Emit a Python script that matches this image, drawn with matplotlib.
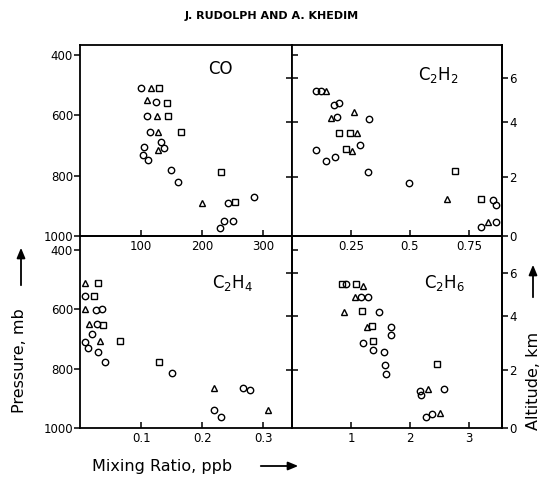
import matplotlib
matplotlib.use("Agg")
import matplotlib.pyplot as plt

plt.rcParams['font.family'] = ['DejaVu Sans']

# ---------------- data ----------------
# CO (ppb) vs pressure (mb)
co_circ_x = [100, 125, 110, 115, 133, 105, 137, 103, 112, 149, 160, 229, 236, 251, 242, 285]
co_circ_p = [510, 555, 602, 654, 687, 706, 709, 731, 748, 781, 820, 972, 949, 949, 892, 872]
co_tri_x = [116, 110, 126, 127, 127, 200]
co_tri_p = [508, 549, 602, 654, 715, 892]
co_sq_x = [130, 143, 144, 165, 230, 253]
co_sq_p = [508, 558, 602, 654, 787, 886]

# C2H2
c2h2_circ_x = [0.102, 0.123, 0.180, 0.200, 0.189, 0.325, 0.289, 0.102, 0.144, 0.184, 0.323, 0.496, 0.853, 0.863, 0.803, 0.863]
c2h2_circ_p = [519, 519, 566, 560, 604, 613, 698, 715, 750, 737, 787, 825, 880, 897, 971, 955]
c2h2_tri_x = [0.146, 0.165, 0.264, 0.275, 0.253, 0.656, 0.832]
c2h2_tri_p = [519, 610, 590, 660, 717, 877, 952]
c2h2_sq_x = [0.198, 0.247, 0.229, 0.690, 0.800]
c2h2_sq_p = [657, 660, 713, 783, 877]

# C2H4
c2h4_circ_x = [0.0085, 0.026, 0.036, 0.019, 0.0085, 0.013, 0.029, 0.041, 0.150, 0.219, 0.230, 0.266, 0.279, 0.028]
c2h4_circ_p = [554, 602, 598, 684, 711, 729, 745, 778, 815, 940, 963, 865, 871, 650]
c2h4_tri_x = [0.0085, 0.0085, 0.014, 0.033, 0.220, 0.308]
c2h4_tri_p = [510, 598, 650, 706, 865, 938]
c2h4_sq_x = [0.030, 0.023, 0.037, 0.065, 0.130]
c2h4_sq_p = [510, 554, 652, 706, 776]

# C2H6
c2h6_circ_x = [0.92, 1.17, 1.28, 1.48, 1.68, 1.68, 1.20, 1.38, 1.56, 1.57, 1.59, 2.17, 2.18, 2.58, 2.28, 2.38]
c2h6_circ_p = [515, 557, 557, 610, 658, 686, 714, 737, 745, 787, 818, 874, 890, 869, 964, 953]
c2h6_tri_x = [1.20, 1.07, 1.27, 0.88, 2.30, 2.51]
c2h6_tri_p = [520, 559, 658, 610, 869, 950]
c2h6_sq_x = [0.84, 1.08, 1.18, 1.35, 1.38, 2.46]
c2h6_sq_p = [515, 515, 607, 655, 708, 785]

p_ticks = [400, 600, 800, 1000]
alt_labels = ['0', '2', '4', '6']
alt_tick_p = [1000, 805, 622, 478]

co_ticks, co_labels = [100, 200, 300], ['100', '200', '300']
c2h4_ticks, c2h4_labels = [0.1, 0.2, 0.3], ['0.1', '0.2', '0.3']
c2h2_ticks, c2h2_labels = [0.25, 0.5, 0.75], ['0.25', '0.5', '0.75']
c2h6_ticks, c2h6_labels = [1, 2, 3], ['1', '2', '3']

# ---------------- figure ----------------
fig = plt.figure(figsize=(5.43, 4.80), dpi=100)
L, M, R = 80/543, 292/543, 502/543
T, MY, B = 1-45/480, 1-236/480, 1-428/480

ax_co = fig.add_axes([L, MY, M-L, T-MY])
ax_c2h2 = fig.add_axes([M, MY, R-M, T-MY])
ax_c2h4 = fig.add_axes([L, B, M-L, MY-B], facecolor='none')
ax_c2h6 = fig.add_axes([M, B, R-M, MY-B], facecolor='none')

mk = dict(linestyle='none', mfc='none', mec='black', mew=1.0, ms=4.6)

def draw(ax, cx, cp, tx, tp, sx, sp):
    ax.plot(cx, cp, marker='o', **mk)
    ax.plot(tx, tp, marker='^', **mk)
    ax.plot(sx, sp, marker='s', **dict(mk, ms=4.2))

draw(ax_co, co_circ_x, co_circ_p, co_tri_x, co_tri_p, co_sq_x, co_sq_p)
draw(ax_c2h2, c2h2_circ_x, c2h2_circ_p, c2h2_tri_x, c2h2_tri_p, c2h2_sq_x, c2h2_sq_p)
draw(ax_c2h4, c2h4_circ_x, c2h4_circ_p, c2h4_tri_x, c2h4_tri_p, c2h4_sq_x, c2h4_sq_p)
draw(ax_c2h6, c2h6_circ_x, c2h6_circ_p, c2h6_tri_x, c2h6_tri_p, c2h6_sq_x, c2h6_sq_p)

ax_co.set_xlim(0, 347); ax_c2h4.set_xlim(0, 0.347)
ax_c2h2.set_xlim(0, 0.89); ax_c2h6.set_xlim(0, 3.56)
for ax in (ax_co, ax_c2h2):
    ax.set_ylim(1000, 367)
for ax in (ax_c2h4, ax_c2h6):
    ax.set_ylim(1000, 353)

for ax in (ax_co, ax_c2h2, ax_c2h4, ax_c2h6):
    for s in ax.spines.values():
        s.set_linewidth(1.3)
    ax.tick_params(axis='x', direction='in', length=4, width=1.1, labelsize=8.5, pad=3)

ax_co.set_xticks(co_ticks, co_labels)
ax_c2h4.set_xticks(c2h4_ticks, c2h4_labels)
ax_c2h2.set_xticks(c2h2_ticks, c2h2_labels)
ax_c2h6.set_xticks(c2h6_ticks, c2h6_labels)

# left panels: pressure on left, inward altitude ticks on right
for ax in (ax_co, ax_c2h4):
    ax.set_yticks(p_ticks, [str(v) for v in p_ticks])
    ax.tick_params(axis='y', direction='out', length=4, width=1.1, labelsize=8.5, pad=1)
    sec = ax.secondary_yaxis('right')
    sec.set_yticks(alt_tick_p[1:], ['']*3)
    sec.tick_params(direction='in', length=4, width=1.1)
    sec.spines['right'].set_visible(False)

# right panels: inward ticks on left, altitude labels on right
for ax in (ax_c2h2, ax_c2h6):
    ax.set_yticks(alt_tick_p[1:] + [400], ['']*4)
    ax.tick_params(axis='y', direction='in', length=4, width=1.1)
    sec = ax.secondary_yaxis('right')
    sec.set_yticks(alt_tick_p, alt_labels)
    sec.tick_params(direction='out', length=4, width=1.1, labelsize=8.5, pad=1)
    sec.spines['right'].set_linewidth(1.3)

ax_co.text(0.66, 0.874, 'CO', transform=ax_co.transAxes, ha='center', va='center', fontsize=12)
ax_c2h2.text(0.695, 0.843, r'C$_2$H$_2$', transform=ax_c2h2.transAxes, ha='center', va='center', fontsize=12)
ax_c2h4.text(0.72, 0.755, r'C$_2$H$_4$', transform=ax_c2h4.transAxes, ha='center', va='center', fontsize=12)
ax_c2h6.text(0.724, 0.755, r'C$_2$H$_6$', transform=ax_c2h6.transAxes, ha='center', va='center', fontsize=12)

fig.text(272/543, 1-16/480, 'J. RUDOLPH AND A. KHEDIM', ha='center', va='center',
         fontsize=8, fontweight='semibold')

fig.text(20/543, 1-361/480, 'Pressure, mb', rotation=90, ha='center', va='center', fontsize=11.5)
fig.text(533/543, 1-381/480, 'Altitude, km', rotation=90, ha='center', va='center', fontsize=11.5)
fig.text(162/543, 1-466/480, 'Mixing Ratio, ppb', ha='center', va='center', fontsize=11.5)

arrow = dict(arrowstyle='-|>,head_length=0.6,head_width=0.25', color='black', lw=1.3)
fig.add_artist(matplotlib.patches.FancyArrowPatch((21/543, 1-288/480), (21/543, 1-245/480),
               transform=fig.transFigure, mutation_scale=10, **arrow))
fig.add_artist(matplotlib.patches.FancyArrowPatch((533/543, 1-300/480), (533/543, 1-262/480),
               transform=fig.transFigure, mutation_scale=10, **arrow))
fig.add_artist(matplotlib.patches.FancyArrowPatch((258/543, 1-466/480), (301/543, 1-466/480),
               transform=fig.transFigure, mutation_scale=10, **arrow))

fig.savefig('out.png', dpi=100)
